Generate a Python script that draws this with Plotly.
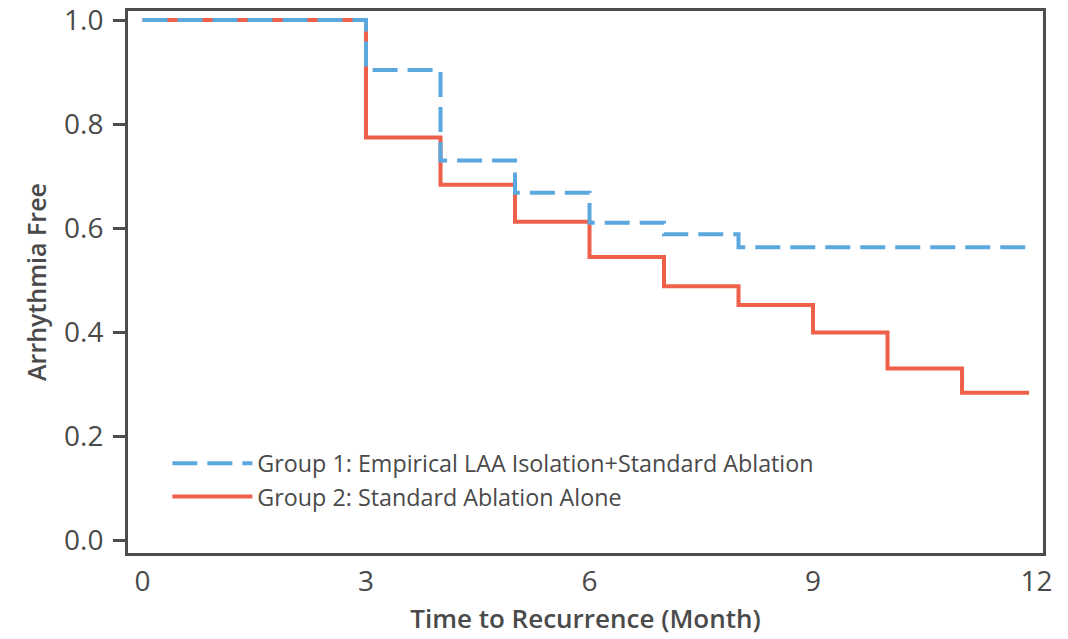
import plotly.graph_objects as go

# Kaplan-Meier style step data (months, survival probability)
months = [0, 3, 4, 5, 6, 7, 8, 9, 10, 11, 11.9]
group1 = [1.0, 0.904, 0.730, 0.668, 0.610, 0.588, 0.563, 0.563, 0.563, 0.563, 0.563]
group2 = [1.0, 0.774, 0.683, 0.612, 0.544, 0.488, 0.452, 0.399, 0.330, 0.283, 0.283]
names = ["Group 1: Empirical LAA Isolation+Standard Ablation", "Group 2: Standard Ablation Alone"]
x_ticks = [0, 3, 6, 9, 12]
y_ticks = [0.0, 0.2, 0.4, 0.6, 0.8, 1.0]
y_tick_labels = ["0.0", "0.2", "0.4", "0.6", "0.8", "1.0"]

BLUE = "#5ba8de"
RED = "#ef604a"
AXIS = "#4d4d4d"
TEXT = "#4a4a4a"
FONT = "Open Sans"

fig = go.Figure()
fig.add_trace(go.Scatter(x=months, y=group2, mode="lines", line_shape="hv",
                         line=dict(color=RED, width=4), name=names[1]))
fig.add_trace(go.Scatter(x=months, y=group1, mode="lines", line_shape="hv",
                         line=dict(color=BLUE, width=4, dash="25px,10px"), name=names[0]))

fig.update_layout(
    width=1060, height=631,
    margin=dict(l=120, r=25, t=3, b=86, autoexpand=False),
    paper_bgcolor="white", plot_bgcolor="white",
    font=dict(family=FONT, color=TEXT, size=22),
    showlegend=True,
    legend=dict(x=0.043, y=0.2055, xanchor="left", yanchor="top",
                traceorder="reversed", bgcolor="rgba(0,0,0,0)",
                font=dict(size=23.3, color=TEXT, family=FONT),
                itemwidth=80, tracegroupgap=0),
)
fig.update_xaxes(
    range=[-0.1946, 12.087], tickvals=x_ticks, ticktext=[str(v) for v in x_ticks],
    showgrid=False, zeroline=False, showline=True, linecolor=AXIS, linewidth=3,
    mirror=True, ticks="", ticklabelstandoff=1, ticklabeloverflow="allow",
    tickfont=dict(size=28, color=TEXT), automargin=False,
    title=dict(text="Time to Recurrence (Month)", standoff=13,
               font=dict(size=26, color=TEXT, weight=600)),
)
fig.update_yaxes(
    range=[-0.025, 1.0173], tickvals=y_ticks, ticktext=y_tick_labels,
    showgrid=False, zeroline=False, showline=True, linecolor=AXIS, linewidth=3,
    mirror=True, ticks="outside", ticklen=12, tickwidth=3, tickcolor=AXIS,
    ticklabelstandoff=4, ticklabeloverflow="allow",
    tickfont=dict(size=28, color=TEXT), automargin=False,
    title=dict(text="Arrhythmia Free", standoff=11,
               font=dict(size=25, color=TEXT, weight=600)),
)

fig.write_html("out.html")
